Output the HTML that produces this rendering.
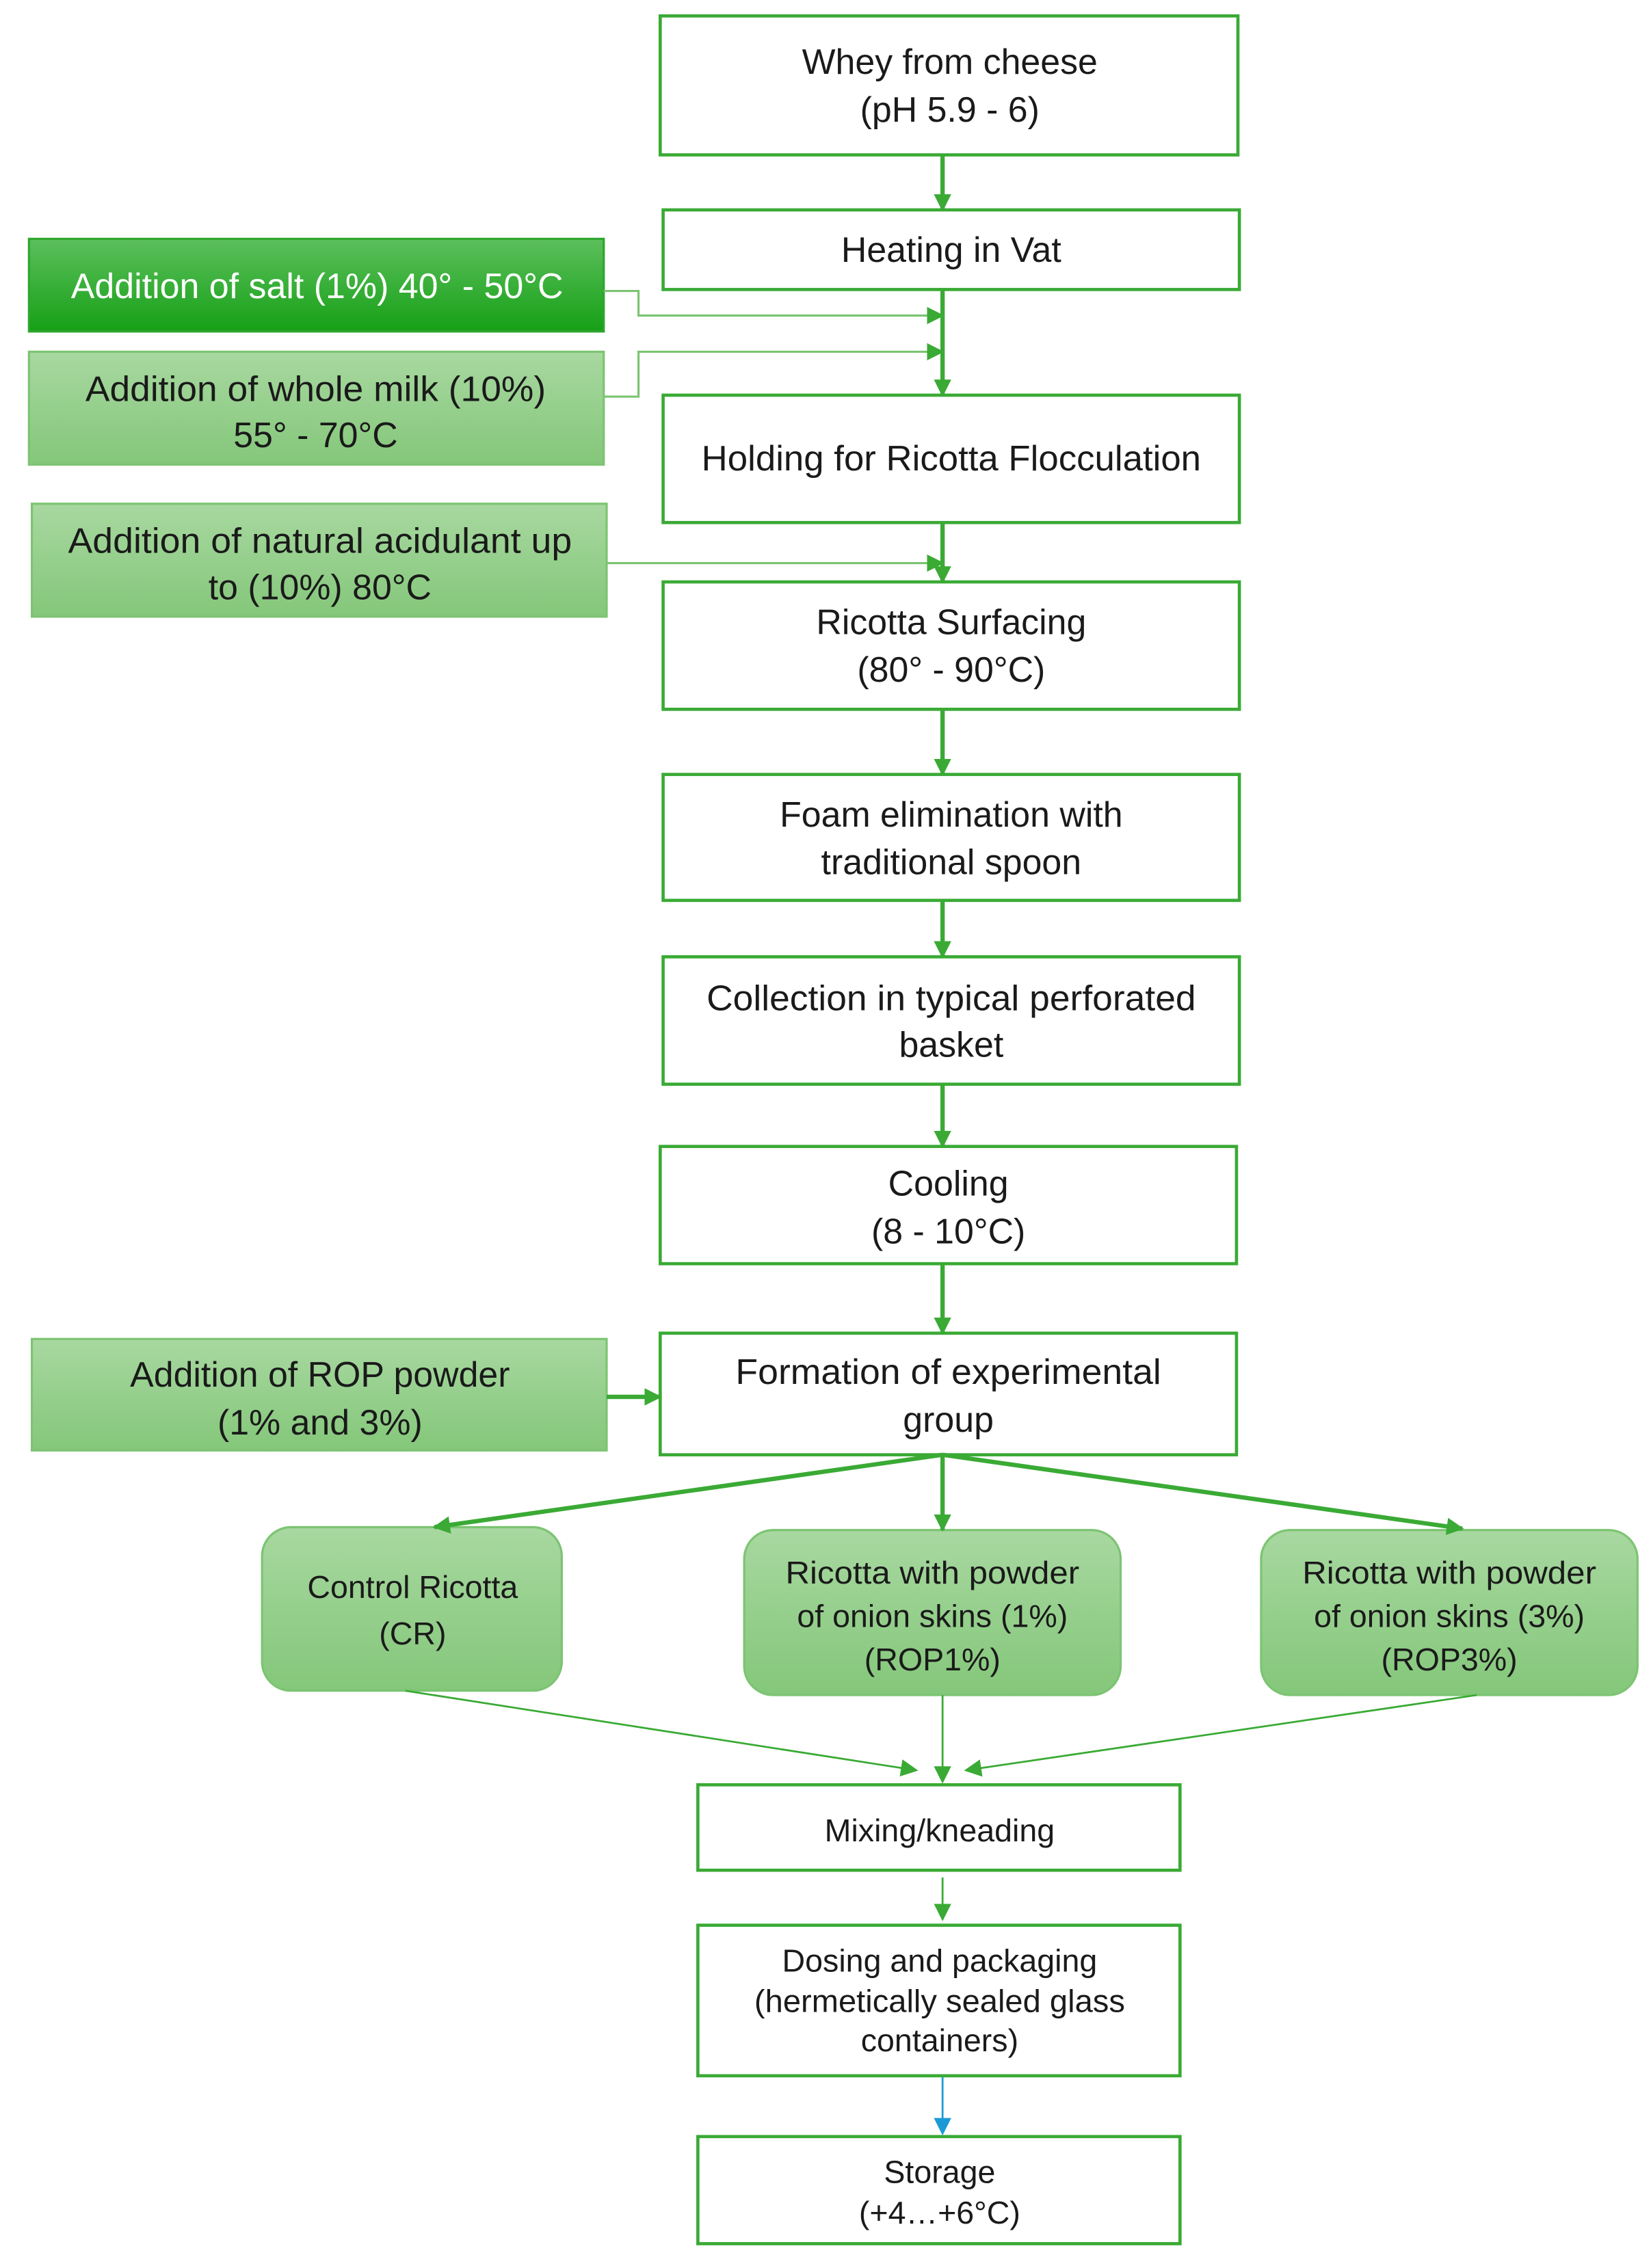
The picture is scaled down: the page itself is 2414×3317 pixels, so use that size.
<!DOCTYPE html>
<html><head><meta charset="utf-8"><style>
html,body{margin:0;padding:0;background:#fff;}
svg{display:block;}
text{font-family:"Liberation Sans",sans-serif;fill:#1a1a1a;text-anchor:middle;}
</style></head><body>
<svg width="2414" height="3317" viewBox="0 0 1140.3 1566.8" preserveAspectRatio="none" xmlns="http://www.w3.org/2000/svg">
<defs>
<linearGradient id="dg" x1="0" y1="0" x2="0" y2="1"><stop offset="0" stop-color="#5cbf5c"/><stop offset="1" stop-color="#16a016"/></linearGradient>
<linearGradient id="lg" x1="0" y1="0" x2="0" y2="1"><stop offset="0" stop-color="#a8d8a0"/><stop offset="1" stop-color="#84c77a"/></linearGradient>
<marker id="ab" viewBox="0 0 10 10" refX="9" refY="5" markerWidth="12" markerHeight="12" orient="auto" markerUnits="userSpaceOnUse"><path d="M0,0 L10,5 L0,10 z" fill="#3aaa35"/></marker>
<marker id="ablue" viewBox="0 0 10 10" refX="9" refY="5" markerWidth="12" markerHeight="12" orient="auto" markerUnits="userSpaceOnUse"><path d="M0,0 L10,5 L0,10 z" fill="#1b9ad6"/></marker>
</defs>
<g fill="#fff" stroke="#3aaa35" stroke-width="2.2">
<rect x="456" y="11" width="399" height="96"/>
<rect x="458" y="145" width="398" height="55"/>
<rect x="458" y="273" width="398" height="88"/>
<rect x="458" y="402" width="398" height="88"/>
<rect x="458" y="535" width="398" height="87"/>
<rect x="458" y="661" width="398" height="88"/>
<rect x="456" y="792" width="398" height="81"/>
<rect x="456" y="921" width="398" height="84"/>
<rect x="482" y="1233" width="333" height="59"/>
<rect x="482" y="1330" width="333" height="104"/>
<rect x="482" y="1476" width="333" height="74"/>
</g>
<rect x="20" y="165" width="397" height="64" fill="url(#dg)" stroke="#2ea62e" stroke-width="1.5"/>
<g fill="url(#lg)" stroke="#7cc472" stroke-width="1.5">
<rect x="20" y="243" width="397" height="78"/>
<rect x="22" y="348" width="397" height="78"/>
<rect x="22" y="925" width="397" height="77"/>
<rect x="181" y="1055" width="207" height="113" rx="20"/>
<rect x="514" y="1057" width="260" height="114" rx="20"/>
<rect x="871" y="1057" width="260" height="114" rx="20"/>
</g>
<g stroke="#3aaa35" stroke-width="3" fill="none">
<line x1="651" y1="107" x2="651" y2="145" marker-end="url(#ab)"/>
<line x1="651" y1="200" x2="651" y2="273" marker-end="url(#ab)"/>
<line x1="651" y1="361" x2="651" y2="402" marker-end="url(#ab)"/>
<line x1="651" y1="490" x2="651" y2="535" marker-end="url(#ab)"/>
<line x1="651" y1="622" x2="651" y2="661" marker-end="url(#ab)"/>
<line x1="651" y1="749" x2="651" y2="792" marker-end="url(#ab)"/>
<line x1="651" y1="873" x2="651" y2="921" marker-end="url(#ab)"/>
<line x1="419" y1="965" x2="456" y2="965" marker-end="url(#ab)"/>
<line x1="651" y1="1005" x2="300" y2="1055" marker-end="url(#ab)"/>
<line x1="651" y1="1005" x2="651" y2="1057" marker-end="url(#ab)"/>
<line x1="651" y1="1005" x2="1010" y2="1056" marker-end="url(#ab)"/>
</g>
<g stroke="#7cc472" stroke-width="1.5" fill="none">
<polyline points="417,201 441,201 441,218 651,218" marker-end="url(#ab)"/>
<polyline points="417,274 441,274 441,243 651,243" marker-end="url(#ab)"/>
<line x1="419" y1="389" x2="651" y2="389" marker-end="url(#ab)"/>
</g>
<g stroke="#3aaa35" stroke-width="1.3" fill="none">
<line x1="280" y1="1168" x2="633" y2="1223" marker-end="url(#ab)"/>
<line x1="651" y1="1171" x2="651" y2="1231" marker-end="url(#ab)"/>
<line x1="1020" y1="1171" x2="667" y2="1223" marker-end="url(#ab)"/>
<line x1="651" y1="1297" x2="651" y2="1326" marker-end="url(#ab)"/>
<line x1="651" y1="1435" x2="651" y2="1474" stroke="#1b9ad6" marker-end="url(#ablue)"/>
</g>
<g font-size="24.5">
<text x="656" y="51">Whey from cheese</text>
<text x="656" y="84">(pH 5.9 - 6)</text>
<text x="657" y="181">Heating in Vat</text>
<text x="657" y="325" textLength="345" lengthAdjust="spacingAndGlyphs">Holding for Ricotta Flocculation</text>
<text x="657" y="438">Ricotta Surfacing</text>
<text x="657" y="471">(80° - 90°C)</text>
<text x="657" y="571">Foam elimination with</text>
<text x="657" y="604">traditional spoon</text>
<text x="657" y="698" textLength="338" lengthAdjust="spacingAndGlyphs">Collection in typical perforated</text>
<text x="657" y="730">basket</text>
<text x="655" y="826">Cooling</text>
<text x="655" y="859">(8 - 10°C)</text>
<text x="655" y="956" textLength="294" lengthAdjust="spacingAndGlyphs">Formation of experimental</text>
<text x="655" y="989">group</text>
<text x="219" y="206" style="fill:#fff" textLength="340" lengthAdjust="spacingAndGlyphs">Addition of salt (1%) 40° - 50°C</text>
<text x="218" y="277" textLength="318" lengthAdjust="spacingAndGlyphs">Addition of whole milk (10%)</text>
<text x="218" y="309">55° - 70°C</text>
<text x="221" y="382" textLength="348" lengthAdjust="spacingAndGlyphs">Addition of natural acidulant up</text>
<text x="221" y="414">to  (10%) 80°C</text>
<text x="221" y="958">Addition of ROP powder</text>
<text x="221" y="991">(1% and 3%)</text>
</g>
<g font-size="22">
<text x="285" y="1104">Control Ricotta</text>
<text x="285" y="1136">(CR)</text>
<text x="644" y="1094" textLength="203" lengthAdjust="spacingAndGlyphs">Ricotta with powder</text>
<text x="644" y="1124">of onion skins (1%)</text>
<text x="644" y="1154">(ROP1%)</text>
<text x="1001" y="1094" textLength="203" lengthAdjust="spacingAndGlyphs">Ricotta with powder</text>
<text x="1001" y="1124">of onion skins (3%)</text>
<text x="1001" y="1154">(ROP3%)</text>
<text x="649" y="1272">Mixing/kneading</text>
<text x="649" y="1362">Dosing and packaging</text>
<text x="649" y="1390" textLength="256" lengthAdjust="spacingAndGlyphs">(hermetically sealed glass</text>
<text x="649" y="1417">containers)</text>
<text x="649" y="1508">Storage</text>
<text x="649" y="1536">(+4…+6°C)</text>
</g>
</svg>
</body></html>
